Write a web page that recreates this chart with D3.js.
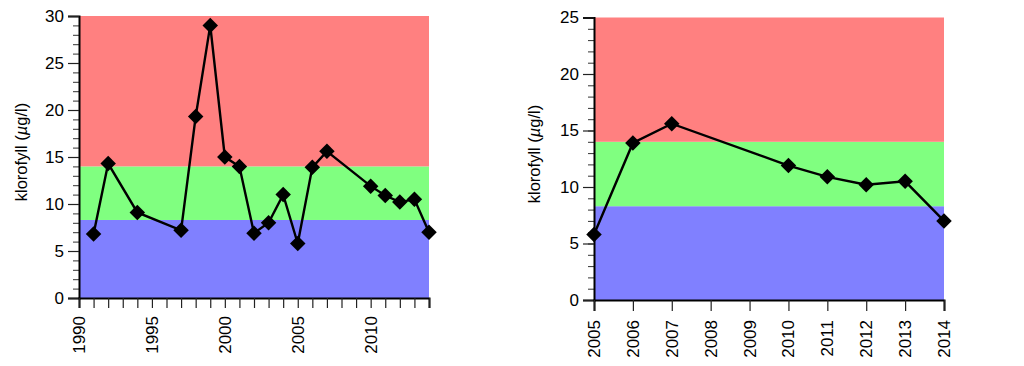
<!DOCTYPE html>
<html>
<head>
<meta charset="utf-8">
<script src="https://cdn.jsdelivr.net/npm/d3@7"></script>
<style>
  html, body { margin: 0; padding: 0; background: #fff; }
  svg { display: block; }
  text { font-family: "Liberation Sans", Arial, Helvetica, sans-serif; fill: #000; }
</style>
</head>
<body>
<svg id="chart" width="1024" height="366"></svg>
<script>
// ---- Data ----
const leftYears  = [1991, 1992, 1994, 1997, 1998, 1999, 2000, 2001, 2002, 2003, 2004, 2005, 2006, 2007, 2010, 2011, 2012, 2013, 2014];
const leftValues = [6.8, 14.3, 9.1, 7.2, 19.3, 29.0, 15.0, 14.0, 6.9, 8.0, 11.0, 5.8, 13.9, 15.6, 11.9, 10.9, 10.2, 10.5, 7.0];

const rightYears  = [2005, 2006, 2007, 2010, 2011, 2012, 2013, 2014];
const rightValues = [5.8, 13.9, 15.6, 11.9, 10.9, 10.2, 10.5, 7.0];

const leftXTicks  = [1990, 1995, 2000, 2005, 2010];
const rightXTicks = [2005, 2006, 2007, 2008, 2009, 2010, 2011, 2012, 2013, 2014];
const leftYTicks  = [0, 5, 10, 15, 20, 25, 30];
const rightYTicks = [0, 5, 10, 15, 20, 25];

// classification bands: [from, to]
const bandLimits = [[0, 8.3], [8.3, 14], [14, null]];
const bandColors = ["#8080ff", "#80ff80", "#ff8080"];

const yLabel = "klorofyll (";
const yUnit = "\u00b5";
const yUnitRest = "g/l";

const svg = d3.select("#chart");

function drawPanel(cfg) {
  const x = d3.scaleLinear().domain(cfg.xDomain).range([cfg.left, cfg.right]);
  const y = d3.scaleLinear().domain(cfg.yDomain).range([cfg.bottom, cfg.top]);
  const g = svg.append("g");

  // bands
  g.selectAll("rect.band").data(bandLimits).enter().append("rect")
    .attr("x", x(cfg.xDomain[0]))
    .attr("width", x(cfg.xDomain[1]) - x(cfg.xDomain[0]))
    .attr("y", d => y(d[1] === null ? cfg.yDomain[1] : d[1]))
    .attr("height", d => y(d[0]) - y(d[1] === null ? cfg.yDomain[1] : d[1]))
    .attr("fill", (d, i) => bandColors[i]);

  // y axis minor ticks
  const yMinor = d3.range(cfg.yDomain[0], cfg.yDomain[1] + 0.001, 1);
  g.append("g").attr("transform", `translate(${x(cfg.xDomain[0])},0)`)
    .call(d3.axisLeft(y).tickValues(yMinor).tickSize(6).tickFormat(""))
    .call(a => a.select(".domain").remove())
    .call(a => a.selectAll("line").attr("stroke", "#333").attr("stroke-width", 1));

  // y axis major
  g.append("g").attr("transform", `translate(${x(cfg.xDomain[0])},0)`)
    .call(d3.axisLeft(y).tickValues(cfg.yTicks).tickSize(11).tickPadding(4).tickFormat(d3.format("d")))
    .call(a => a.select(".domain").attr("stroke", "#000").attr("stroke-width", 2))
    .call(a => a.selectAll("line").attr("stroke", "#222").attr("stroke-width", 1.2))
    .call(a => a.selectAll("text").attr("font-size", 17).style("font-size", "17px").attr("font-family", null));

  // x axis ticks (every year)
  const xAll = d3.range(cfg.xDomain[0], cfg.xDomain[1] + 1, 1);
  g.append("g").attr("transform", `translate(0,${y(cfg.yDomain[0])})`)
    .call(d3.axisBottom(x).tickValues(xAll).tickSize(cfg.xTickLen).tickFormat(""))
    .call(a => a.select(".domain").attr("stroke", "#000").attr("stroke-width", 2))
    .call(a => a.selectAll("line").attr("stroke", "#222").attr("stroke-width", 1.2));

  // x labels rotated
  g.selectAll("text.xl").data(cfg.xTicks).enter().append("text")
    .attr("class", "xl")
    .attr("transform", d => `translate(${x(d) + 6},${y(cfg.yDomain[0]) + cfg.xTickLen + cfg.xLabGap}) rotate(-90)`)
    .attr("text-anchor", "end")
    .style("font-size", "17px")
    .text(d => d);

  // y label
  const lab = g.append("text")
    .attr("transform", `translate(${cfg.labelX},${cfg.labelY}) rotate(-90)`)
    .attr("text-anchor", "middle")
    .style("font-size", "16.5px");
  lab.append("tspan").text(yLabel);
  lab.append("tspan").style("font-style", "italic").text(yUnit);
  lab.append("tspan").text(yUnitRest + ")");

  // line
  const pts = cfg.years.map((yr, i) => [yr, cfg.values[i]]);
  g.append("path").datum(pts)
    .attr("fill", "none").attr("stroke", "#000").attr("stroke-width", 2.4)
    .attr("d", d3.line().x(d => x(d[0])).y(d => y(d[1])));

  // diamonds
  const sym = d3.symbol().type(d3.symbolSquare).size(120);
  g.selectAll("path.pt").data(pts).enter().append("path")
    .attr("class", "pt")
    .attr("transform", d => `translate(${x(d[0])},${y(d[1])}) rotate(45)`)
    .attr("d", sym)
    .attr("fill", "#000");
}

drawPanel({
  years: leftYears, values: leftValues,
  xDomain: [1990, 2014], yDomain: [0, 30],
  xTicks: leftXTicks, yTicks: leftYTicks,
  left: 79, right: 429, top: 16, bottom: 298,
  xTickLen: 10, xLabGap: 8, labelX: 27, labelY: 152
});

drawPanel({
  years: rightYears, values: rightValues,
  xDomain: [2005, 2014], yDomain: [0, 25],
  xTicks: rightXTicks, yTicks: rightYTicks,
  left: 594, right: 944, top: 17.5, bottom: 300,
  xTickLen: 11, xLabGap: 9, labelX: 540, labelY: 154
});
</script>
</body>
</html>
